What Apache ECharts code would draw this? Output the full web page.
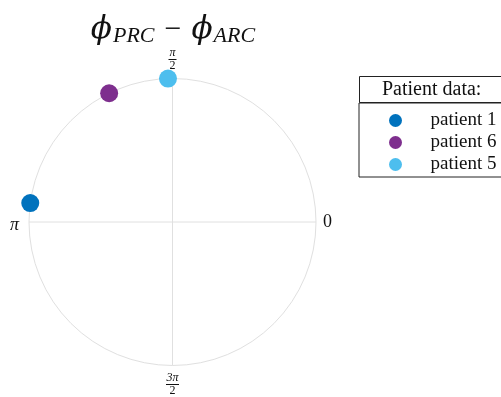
<!DOCTYPE html>
<html>
<head>
<meta charset="utf-8">
<script src="https://cdn.jsdelivr.net/npm/echarts@6/dist/echarts.min.js"></script>
<style>html,body{margin:0;padding:0;background:#fff;}#c{width:501px;height:397px;}</style>
</head>
<body>
<div id="c"></div>
<script>
var seriesNames = ['patient 1', 'patient 6', 'patient 5'];
var seriesColors = ['#0072BD', '#7E2F8E', '#4DBEEE'];
var radii = [1, 1, 1];
var anglesDeg = [172.4, 116.2, 91.8];
var angleTicks = [0, 90, 180, 270];
var angleTickLabels = {0: '{t|0}', 90: '{n|π}\n{bar|}\n{d|2}', 180: '{p|π}', 270: '{n|3π}\n{bar2|}\n{d|2}'};
var legendTitle = 'Patient data:';

var serif = 'Liberation Serif';
var chart = echarts.init(document.getElementById('c'), null, {renderer: 'canvas'});
var series = seriesNames.map(function (name, i) {
  return {
    name: name,
    type: 'scatter',
    coordinateSystem: 'polar',
    symbol: 'circle',
    symbolSize: 18,
    itemStyle: {color: seriesColors[i], opacity: 1},
    data: [[radii[i], anglesDeg[i]]]
  };
});
chart.setOption({
  animation: false,
  backgroundColor: '#fff',
  title: [{
    text: '{phi|ϕ}{sub|PRC}{op|−}{phi|ϕ}{sub|ARC}',
    left: 168, top: 8, textAlign: 'center',
    textStyle: {
      fontWeight: 'normal',
      rich: {
        phi: {fontFamily: 'DejaVu Serif', fontStyle: 'italic', fontWeight: 'normal', fontSize: 31, lineHeight: 34, color: '#111'},
        sub: {fontFamily: serif, fontStyle: 'italic', fontWeight: 'normal', fontSize: 22, lineHeight: 20, verticalAlign: 'bottom', padding: [0, 0, 0, 1], color: '#111'},
        op: {fontFamily: serif, fontWeight: 'normal', fontSize: 30, lineHeight: 34, padding: [0, 10, 0, 10], color: '#111'}
      }
    }
  }, {
    text: legendTitle,
    left: 359, top: 77,
    padding: [4, 40, 3, 23],
    borderColor: '#222', borderWidth: 1,
    textStyle: {fontFamily: serif, fontSize: 20, fontWeight: 'normal', color: '#111', lineHeight: 18}
  }],
  legend: {
    orient: 'vertical',
    left: 359, top: 103,
    padding: [8, 40, 3, 30],
    borderColor: '#222', borderWidth: 1,
    icon: 'circle',
    itemWidth: 60, itemHeight: 13,
    itemGap: 3,
    data: seriesNames,
    textStyle: {fontFamily: serif, fontSize: 19, color: '#111', lineHeight: 18}
  },
  polar: {center: [172.5, 222], radius: 143.5},
  angleAxis: {
    type: 'value', min: 0, max: 360, interval: 90,
    startAngle: 0, clockwise: false,
    axisLine: {show: true, lineStyle: {color: '#e0e0e0', width: 1}},
    axisTick: {show: false},
    splitLine: {show: true, lineStyle: {color: '#e0e0e0', width: 1}},
    axisLabel: {
      show: true, margin: 7,
      formatter: function (v) { return angleTickLabels[v] || ''; },
      rich: {
        t: {fontFamily: serif, fontSize: 18, color: '#111'},
        p: {fontFamily: serif, fontStyle: 'italic', fontSize: 18, color: '#111', padding: [6, 3, 0, 0]},
        n: {fontFamily: serif, fontStyle: 'italic', fontSize: 12, color: '#111', lineHeight: 11, align: 'center'},
        d: {fontFamily: serif, fontSize: 12, color: '#111', lineHeight: 11, align: 'center'},
        bar: {width: 8, height: 1, backgroundColor: '#111', lineHeight: 2, align: 'center'},
        bar2: {width: 13, height: 1, backgroundColor: '#111', lineHeight: 2, align: 'center'}
      }
    }
  },
  radiusAxis: {
    type: 'value', min: 0, max: 1,
    axisLine: {show: false}, axisTick: {show: false}, axisLabel: {show: false}, splitLine: {show: false}
  },
  series: series
});
</script>
</body>
</html>
